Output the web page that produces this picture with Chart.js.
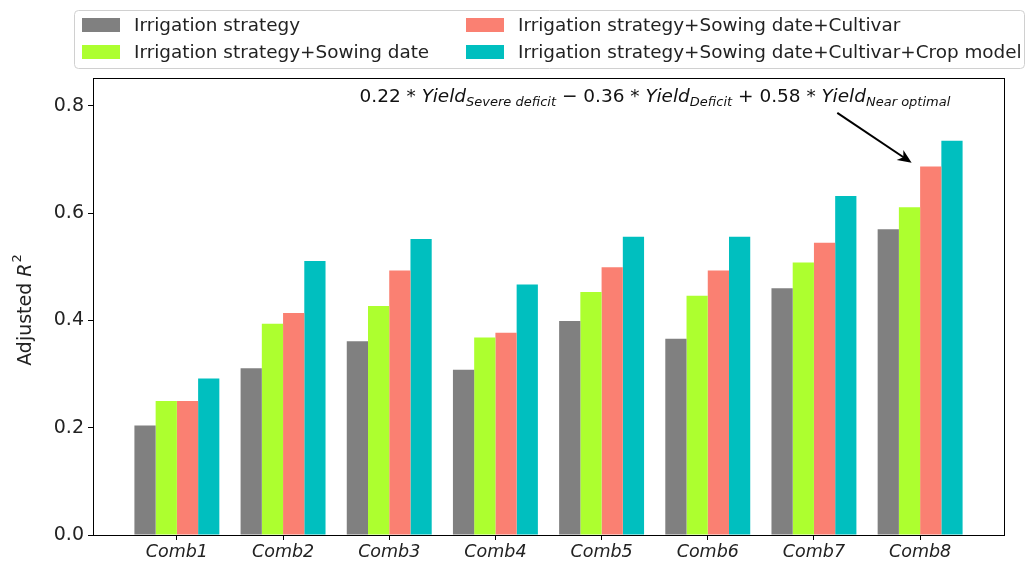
<!DOCTYPE html>
<html lang="en">
<head>
    <meta charset="UTF-8">
    <title>Adjusted R2 by combination</title>
    <script src="https://cdn.jsdelivr.net/npm/chart.js"></script>
    <style>
        body { margin: 0; background: #fff; }
        #wrap { width: 1027px; height: 564px; }
    </style>
</head>
<body>
    <div id="wrap"><canvas id="chart" width="1027" height="564"></canvas></div>

    <script>
        // Data
        const categories = ['Comb1', 'Comb2', 'Comb3', 'Comb4', 'Comb5', 'Comb6', 'Comb7', 'Comb8'];
        const irrigation = [0.204, 0.311, 0.361, 0.308, 0.399, 0.366, 0.460, 0.570];
        const sowing     = [0.250, 0.394, 0.427, 0.368, 0.453, 0.446, 0.508, 0.611];
        const cultivar   = [0.250, 0.414, 0.493, 0.377, 0.499, 0.493, 0.545, 0.687];
        const cropModel  = [0.292, 0.511, 0.552, 0.467, 0.556, 0.556, 0.632, 0.735];
        const seriesNames = [
            'Irrigation strategy',
            'Irrigation strategy+Sowing date',
            'Irrigation strategy+Sowing date+Cultivar',
            'Irrigation strategy+Sowing date+Cultivar+Crop model'
        ];
        const yTicks = [0, 0.2, 0.4, 0.6, 0.8];

        const colors = ['#808080', '#adff2f', '#fa8072', '#00bfbf'];
        const series = [irrigation, sowing, cultivar, cropModel];
        const FONT = '"DejaVu Sans", sans-serif';

        const datasets = series.map((vals, i) => ({
            label: seriesNames[i],
            data: vals.map((v, j) => ({ x: j, y: v })),
            backgroundColor: colors[i],
            borderWidth: 0,
            categoryPercentage: 0.8,
            barPercentage: 1.0
        }));

        // frame, legend, annotation, y title
        const overlay = {
            id: 'overlay',
            afterDraw(chart) {
                const { ctx, chartArea: a, scales: { x, y } } = chart;
                ctx.save();
                ctx.strokeStyle = '#000';
                ctx.lineWidth = 1;
                ctx.strokeRect(Math.round(a.left) + 0.5, Math.round(a.top) + 0.5,
                    Math.round(a.right - a.left), Math.round(a.bottom - a.top));

                // legend (2 columns, filled column by column)
                ctx.fillStyle = 'rgba(255,255,255,0.8)';
                ctx.strokeStyle = '#d0d0d0';
                ctx.beginPath();
                ctx.roundRect(74.5, 10.5, 950, 58, 4);
                ctx.fill();
                ctx.stroke();
                const colX = [82, 466];
                const rowY = [25, 52];
                ctx.font = '18.4px ' + FONT;
                ctx.textBaseline = 'middle';
                ctx.textAlign = 'left';
                seriesNames.forEach((name, i) => {
                    const cx = colX[Math.floor(i / 2)];
                    const cy = rowY[i % 2];
                    ctx.fillStyle = colors[i];
                    ctx.fillRect(cx, cy - 7, 38, 14);
                    ctx.fillStyle = '#222';
                    ctx.fillText(name, cx + 52, cy + 1);
                });

                // y axis title: Adjusted R^2
                ctx.save();
                ctx.translate(26, 310);
                ctx.rotate(-Math.PI / 2);
                ctx.fillStyle = '#222';
                ctx.textBaseline = 'middle';
                const t1 = 'Adjusted ';
                ctx.font = 'italic 19px ' + FONT;
                const wR = ctx.measureText('R').width;
                ctx.font = '13px ' + FONT;
                const w2 = ctx.measureText('2').width;
                ctx.font = '19px ' + FONT;
                const w1 = ctx.measureText(t1).width;
                let sx = -(w1 + wR + w2 + 1) / 2;
                ctx.fillText(t1, sx, 0);
                sx += w1;
                ctx.font = 'italic 19px ' + FONT;
                ctx.fillText('R', sx, 0);
                sx += wR + 1;
                ctx.font = '13px ' + FONT;
                ctx.fillText('2', sx, -8);
                ctx.restore();

                // annotation text
                const parts = [
                    ['0.22 * ', '18.5px', 0], ['Yield', 'italic 18.5px', 0], ['Severe deficit', 'italic 13px', 4],
                    [' \u2212 0.36 * ', '18.5px', 0], ['Yield', 'italic 18.5px', 0], ['Deficit', 'italic 13px', 4],
                    [' + 0.58 * ', '18.5px', 0], ['Yield', 'italic 18.5px', 0], ['Near optimal', 'italic 13px', 4]
                ];
                let px = x.getPixelForValue(1.72);
                const py = y.getPixelForValue(0.808);
                ctx.textBaseline = 'alphabetic';
                ctx.fillStyle = '#111';
                parts.forEach(([txt, f, dy]) => {
                    ctx.font = f + ' ' + FONT;
                    ctx.fillText(txt, px, py + dy);
                    px += ctx.measureText(txt).width;
                });

                // arrow
                const x0 = x.getPixelForValue(6.22), y0 = y.getPixelForValue(0.787);
                const x1 = x.getPixelForValue(6.92), y1 = y.getPixelForValue(0.694);
                const ang = Math.atan2(y1 - y0, x1 - x0);
                ctx.strokeStyle = '#000';
                ctx.lineWidth = 2;
                ctx.beginPath();
                ctx.moveTo(x0, y0);
                ctx.lineTo(x1 - 8 * Math.cos(ang), y1 - 8 * Math.sin(ang));
                ctx.stroke();
                ctx.fillStyle = '#000';
                ctx.beginPath();
                ctx.moveTo(x1, y1);
                ctx.lineTo(x1 - 14 * Math.cos(ang) + 6 * Math.sin(ang), y1 - 14 * Math.sin(ang) - 6 * Math.cos(ang));
                ctx.lineTo(x1 - 10 * Math.cos(ang), y1 - 10 * Math.sin(ang));
                ctx.lineTo(x1 - 14 * Math.cos(ang) - 6 * Math.sin(ang), y1 - 14 * Math.sin(ang) + 6 * Math.cos(ang));
                ctx.closePath();
                ctx.fill();
                ctx.restore();
            }
        };

        new Chart(document.getElementById('chart'), {
            type: 'bar',
            data: { datasets },
            plugins: [overlay],
            options: {
                responsive: false,
                animation: false,
                layout: { padding: { top: 78, right: 23, left: 0, bottom: 0 } },
                plugins: { legend: { display: false }, tooltip: { enabled: false } },
                scales: {
                    x: {
                        type: 'linear',
                        offset: false,
                        min: -0.79,
                        max: 7.79,
                        afterFit: s => { s.height = 29; },
                        afterBuildTicks: s => { s.ticks = categories.map((_, i) => ({ value: i })); },
                        grid: { offset: false, drawOnChartArea: false, color: '#000', tickLength: 5 },
                        border: { color: '#000' },
                        ticks: {
                            callback: v => categories[v],
                            font: { family: FONT, size: 17.5, style: 'italic' },
                            color: '#222',
                            padding: 2,
                            maxRotation: 0
                        }
                    },
                    y: {
                        min: 0,
                        max: 0.852,
                        afterFit: s => { s.width = 93; },
                        afterBuildTicks: s => { s.ticks = yTicks.map(v => ({ value: v })); },
                        grid: { drawOnChartArea: false, color: '#000', tickLength: 5 },
                        border: { color: '#000' },
                        ticks: {
                            callback: v => v.toFixed(1),
                            font: { family: FONT, size: 19 },
                            color: '#222',
                            padding: 4
                        }
                    }
                }
            }
        });
    </script>
</body>
</html>
